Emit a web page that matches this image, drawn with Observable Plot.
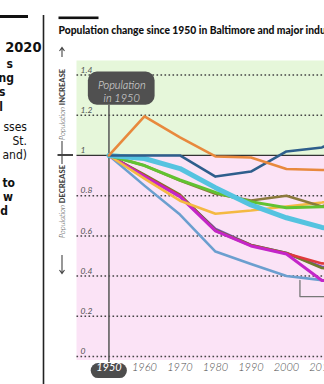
<!DOCTYPE html>
<html><head><meta charset="utf-8">
<script src="https://cdn.jsdelivr.net/npm/d3@7"></script>
<script src="https://cdn.jsdelivr.net/npm/@observablehq/plot@0.6"></script>
<style>
html,body{margin:0;padding:0;background:#fff;}
#wrap{position:relative;width:324px;height:384px;overflow:hidden;font-family:Lato,"Open Sans",sans-serif;}
#chart{position:absolute;left:0;top:0;width:420px;height:384px;}
#chart svg{max-width:none !important;width:420px !important;height:384px !important;display:block;}
#over{position:absolute;left:0;top:0;}
</style></head>
<body><div id="wrap"><div id="chart"></div>
<svg id="over" width="324" height="384" xmlns="http://www.w3.org/2000/svg">
  <rect x="0" y="15" width="28" height="3" fill="#111"/>
  <line x1="43.5" y1="15" x2="43.5" y2="384" stroke="#222" stroke-width="1.6"/>
  <g font-family="'Liberation Sans Narrow','DejaVu Sans Condensed',sans-serif" fill="#111" text-anchor="end">
    <text x="41.5" y="52" font-size="14.5" font-weight="700">2020</text>
    <text x="13" y="68" font-size="12" font-weight="700">s</text>
    <text x="14" y="82" font-size="12" font-weight="700">ing</text>
    <text x="5.5" y="96" font-size="12" font-weight="700">s</text>
    <text x="3" y="111" font-size="12" font-weight="700">l</text>
    <text x="27" y="131" font-size="12">sses</text>
    <text x="27" y="145" font-size="12">St.</text>
    <text x="27" y="159" font-size="12">and)</text>
    <text x="15" y="187" font-size="12" font-weight="700">to</text>
    <text x="13" y="201" font-size="12" font-weight="700">w</text>
    <text x="8" y="215" font-size="12" font-weight="700">d</text>
  </g>
  <rect x="58.5" y="16.5" width="40" height="2.6" fill="#111"/>
  <text x="58.5" y="34" font-size="10.3" font-weight="900" fill="#111">Population change since 1950 in Baltimore and major industrial cities</text>
  <g stroke="#444" stroke-width="1.1" fill="none">
    <path d="M62 57 L62 48 M59.5 51 L62 47.5 L64.5 51"/>
    <path d="M62 141 L62 164"/>
    <path d="M57.5 155 L73 155" stroke-width="2"/>
    <path d="M62 255 L62 273 M59.5 270 L62 273.5 L64.5 270"/>
  </g>
  <text transform="translate(64.7,140) rotate(-90)" font-size="7.6" fill="#444"><tspan font-style="italic" font-weight="300">Population </tspan><tspan font-weight="900">INCREASE</tspan></text>
  <text transform="translate(64.7,165) rotate(-90)" text-anchor="end" font-size="7.6" fill="#444"><tspan font-style="italic" font-weight="300">Population </tspan><tspan font-weight="900">DECREASE</tspan></text>
</svg>
</div>
<script>
const years = [1950, 1960, 1970, 1980, 1990, 2000, 2010, 2020];
const steelBlue  = [1.00, 0.85, 0.706, 0.522, 0.46, 0.40, 0.38, 0.37];
const purple     = [1.00, 0.90, 0.80, 0.635, 0.555, 0.515, 0.445, 0.44];
const darkOlive  = [1.00, 0.905, 0.805, 0.63, 0.555, 0.515, 0.44, 0.43];
const red        = [1.00, 0.90, 0.80, 0.625, 0.552, 0.512, 0.463, 0.46];
const magenta    = [1.00, 0.895, 0.795, 0.625, 0.55, 0.51, 0.378, 0.37];
const yellow     = [1.00, 0.885, 0.775, 0.71, 0.726, 0.746, 0.766, 0.80];
const oliveBrown = [1.00, 0.95, 0.875, 0.81, 0.776, 0.80, 0.746, 0.82];
const lime       = [1.00, 0.95, 0.878, 0.816, 0.77, 0.74, 0.745, 0.75];
const cyan       = [1.00, 0.985, 0.935, 0.84, 0.754, 0.69, 0.642, 0.61];
const navy       = [1.00, 1.00, 1.00, 0.895, 0.92, 1.02, 1.04, 1.12];
const orange     = [1.00, 1.195, 1.09, 0.995, 0.99, 0.933, 0.928, 0.925];

const gridTicks = [0, 0.2, 0.4, 0.6, 0.8, 1.2, 1.4];
const tickLabels = [0, 0.2, 0.4, 0.6, 0.8, 1, 1.2, 1.4];
const axisYears = [1960, 1970, 1980, 1990, 2000, 2010, 2020];
const baseYear = 1950;
const calloutLines = ["Population", "in 1950"];
const bracket = [[2003.8, 0.378], [2003.8, 0.298], [2030, 0.298]];

const series = [
  {name: "steelBlue", values: steelBlue, color: "#6b9fcf", w: 2.6},
  {name: "purple", values: purple, color: "#7b44c4", w: 2.6},
  {name: "darkOlive", values: darkOlive, color: "#6f7d2c", w: 2.6},
  {name: "red", values: red, color: "#e03a3c", w: 2.6},
  {name: "magenta", values: magenta, color: "#c326c9", w: 3},
  {name: "yellow", values: yellow, color: "#f4b942", w: 2.6},
  {name: "oliveBrown", values: oliveBrown, color: "#8c7a3c", w: 2.6},
  {name: "lime", values: lime, color: "#62c232", w: 3},
  {name: "cyan", values: cyan, color: "#55c3e0", w: 5},
  {name: "navy", values: navy, color: "#2e5e8c", w: 2.6},
  {name: "orange", values: orange, color: "#e8893d", w: 2.6}
];

const lineMarks = series.map(s => Plot.line(
  years.map((yr, i) => ({year: yr, value: s.values[i]})),
  {x: "year", y: "value", stroke: s.color, strokeWidth: s.w, strokeLinejoin: "round", strokeLinecap: "round"}
));

const chart = Plot.plot({
  width: 420, height: 384,
  marginLeft: 76.5, marginRight: 45.3, marginTop: 60.5, marginBottom: 24,
  x: {domain: [1941, 2025], axis: null},
  y: {domain: [-0.02, 1.47], axis: null},
  style: {background: "transparent", overflow: "visible", fontFamily: "Lato, 'Open Sans', sans-serif", maxWidth: "none"},
  marks: [
    Plot.rect([{lo: 1, hi: 1.47}], {y1: "lo", y2: "hi", fill: "#e6f7da"}),
    Plot.rect([{lo: -0.02, hi: 1}], {y1: "lo", y2: "hi", fill: "#fbe3f6"}),
    Plot.ruleY(gridTicks, {stroke: "#444", strokeWidth: 1.5, strokeDasharray: "1.6,2.4"}),
    Plot.ruleY([1], {stroke: "#333", strokeWidth: 1.2}),
    Plot.text(tickLabels, {y: d => d, text: d => String(d), frameAnchor: "left", dx: 3.5, dy: -5, textAnchor: "start", fontSize: 8.5, fontStyle: "italic", fill: "#555"}),
    Plot.ruleX([baseYear], {y1: 1.25, y2: -0.03, stroke: "#555", strokeWidth: 1.5}),
    ...lineMarks,
    Plot.line(bracket, {x: d => d[0], y: d => d[1], stroke: "#777", strokeWidth: 1.3, clip: false}),
    Plot.rect([baseYear], {x1: d => d - 5.8, x2: d => d + 13, y1: 1.25, y2: 1.415, rx: 9, fill: "#505050"}),
    Plot.text(calloutLines, {x: baseYear + 3.6, y: (d, i) => 1.35 - i * 0.065, text: d => d, fontSize: 11, fontStyle: "italic", fontWeight: 300, fill: "#e4e4e4"}),
    Plot.rect([baseYear], {x1: d => d - 5, x2: d => d + 5.2, y1: -0.035, y2: -0.11, rx: 7.5, fill: "#4d4d4d"}),
    Plot.text([baseYear], {x: d => d, frameAnchor: "bottom", dy: 10.5, text: d => String(d), fontSize: 11, fontStyle: "italic", fill: "#fff"}),
    Plot.text(axisYears, {x: d => d, frameAnchor: "bottom", dy: 10.5, text: d => String(d), fontSize: 11, fontStyle: "italic", fontWeight: 300, fill: "#4a4a4a"})
  ]
});
document.getElementById("chart").appendChild(chart);
</script>
</body></html>
